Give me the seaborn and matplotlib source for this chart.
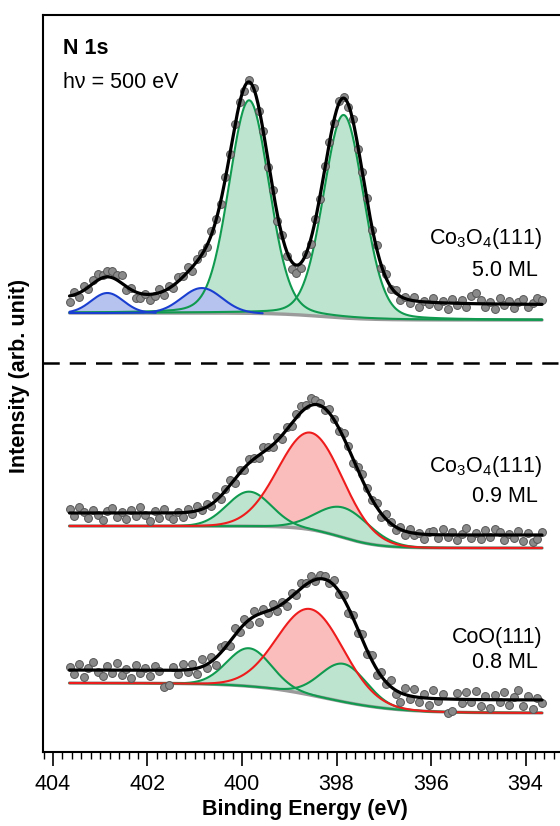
import numpy as np
import pandas as pd
import matplotlib
matplotlib.use("Agg")
import matplotlib.pyplot as plt
import seaborn as sns

# ---------------- data ----------------
energy_start = 403.65   # eV, first data channel
energy_step = 0.1       # eV
binding_energy = np.round(energy_start - energy_step * np.arange(101), 2)

counts_5ML = [450, 460, 455, 466, 463, 472, 478, 477, 481, 481, 477, 477, 462, 464, 454, 454, 458, 452, 456, 463,
              457, 466, 464, 475, 476, 485, 481, 493, 499, 505, 521, 533, 548, 575, 598, 628, 650, 661, 672, 664,
              641, 621, 585, 562, 531, 517, 496, 483, 479, 484, 498, 508, 533, 553, 586, 610, 629, 651, 655, 645,
              633, 603, 580, 554, 522, 507, 484, 478, 463, 462, 452, 455, 449, 455, 445, 451, 448, 454, 446, 451,
              443, 453, 447, 452, 445, 456, 459, 452, 445, 450, 443, 454, 447, 451, 444, 450, 453, 445, 449, 454, 452]
counts_09ML = [243, 236, 245, 240, 234, 242, 237, 232, 241, 244, 235, 240, 233, 242, 236, 245, 237, 231, 241, 234,
               243, 236, 233, 240, 235, 243, 238, 246, 242, 248, 246, 256, 253, 263, 272, 269, 282, 282, 293, 294,
               294, 305, 305, 305, 315, 313, 325, 326, 338, 346, 347, 354, 352, 349, 342, 343, 333, 321, 319, 306,
               289, 285, 278, 264, 252, 249, 235, 238, 230, 222, 225, 217, 223, 217, 219, 213, 220, 221, 214, 223,
               215, 220, 212, 218, 224, 214, 219, 213, 222, 215, 223, 220, 212, 218, 214, 221, 211, 219, 210, 213, 220]
counts_08ML = [85, 78, 88, 75, 84, 90, 80, 76, 86, 79, 89, 77, 83, 74, 87, 79, 84, 76, 86, 81,
               65, 67, 85, 78, 88, 80, 88, 78, 93, 84, 95, 87, 105, 107, 106, 124, 120, 133, 128, 141,
               130, 143, 139, 148, 141, 150, 146, 159, 157, 169, 169, 176, 171, 177, 176, 169, 172, 158, 157, 139,
               137, 119, 118, 98, 97, 77, 80, 68, 72, 58, 50, 64, 53, 63, 50, 58, 47, 62, 51, 58,
               39, 41, 59, 49, 60, 50, 61, 46, 56, 44, 57, 50, 60, 47, 55, 62, 46, 56, 43, 54, 49]

# fitted components: centre (eV), height, FWHM (eV), Lorentzian fraction, species
comp_5ML_centre = [402.85, 400.85, 399.85, 397.85]
comp_5ML_height = [20, 25, 213, 203]
comp_5ML_fwhm = [0.8, 1.0, 1.0, 1.0]
comp_5ML_eta = [0.0, 0.0, 0.15, 0.15]
comp_5ML_kind = ["blue", "blue", "green", "green"]

comp_09ML_centre = [399.85, 398.55, 397.85]
comp_09ML_height = [34.5, 97, 30]
comp_09ML_fwhm = [1.1, 1.6, 1.3]
comp_09ML_eta = [0.0, 0.0, 0.0]
comp_09ML_kind = ["green", "red", "green"]

comp_08ML_centre = [399.85, 398.55, 397.85]
comp_08ML_height = [38, 86, 38]
comp_08ML_fwhm = [1.1, 1.65, 1.15]
comp_08ML_eta = [0.0, 0.0, 0.0]
comp_08ML_kind = ["green", "red", "green"]

# background step: level at high BE, level at low BE, step centre, step width
bg_5ML = [439, 432, 398.3, 0.5]
bg_09ML = [226, 204, 397.9, 0.4]
bg_08ML = [69, 39, 398.25, 0.76]
# vertical shift of the data/envelope above the drawn components
fit_shift = [15, 13, 13]

sample_lines = [["Co$_3$O$_4$(111)", "5.0 ML"], ["Co$_3$O$_4$(111)", "0.9 ML"], ["CoO(111)", "0.8 ML"]]
x_ticks = [404, 402, 400, 398, 396, 394]
separator_level = 389

# ---------------- style ----------------
sns.set_style("ticks")
plt.rcParams["font.family"] = ["Liberation Sans", "DejaVu Sans"]
plt.rcParams["mathtext.default"] = "regular"
plt.rcParams["text.color"] = "black"
plt.rcParams["axes.labelcolor"] = "black"
plt.rcParams["xtick.color"] = "black"
plt.rcParams["xtick.labelcolor"] = "black"

line_col = {"green": "#0f9a4f", "red": "#ee1c1c", "blue": "#1a3fd0"}
fill_col = {"green": "#bde4cf", "red": "#fbbcbc", "blue": "#b6c3ee"}
fill_z = {"red": 1.0, "green": 1.1, "blue": 1.2}
line_z = {"green": 2.1, "red": 2.2, "blue": 2.3}
# minor (blue) components are only drawn where they are significant
draw_cut = {"green": 0.0, "red": 0.0, "blue": 0.01}


def pvoigt(e, c, a, w, eta):
    x = (e - c) / w
    g = np.exp(-4 * np.log(2) * x ** 2)
    l = 1.0 / (1.0 + 4 * x ** 2)
    return a * (eta * l + (1 - eta) * g)


def step_bg(e, hi, lo, c, s):
    return lo + (hi - lo) / (1.0 + np.exp(-(e - c) / s))


fig = plt.figure(figsize=(5.6, 8.26), dpi=100)
ax = fig.add_axes([43 / 560, 74 / 826, 523 / 560, 737 / 826])

e_fine = np.linspace(binding_energy[0], binding_energy[-1], 801)

spectra = [
    (counts_5ML, comp_5ML_centre, comp_5ML_height, comp_5ML_fwhm, comp_5ML_eta, comp_5ML_kind, bg_5ML),
    (counts_09ML, comp_09ML_centre, comp_09ML_height, comp_09ML_fwhm, comp_09ML_eta, comp_09ML_kind, bg_09ML),
    (counts_08ML, comp_08ML_centre, comp_08ML_height, comp_08ML_fwhm, comp_08ML_eta, comp_08ML_kind, bg_08ML),
]

for i, (counts, cen, hei, fw, eta, kind, bg) in enumerate(spectra):
    base = step_bg(e_fine, *bg)
    total = base.copy()
    for c, a, w, et, k in zip(cen, hei, fw, eta, kind):
        p = pvoigt(e_fine, c, a, w, et)
        total += p
        ax.fill_between(e_fine, base, base + p, color=fill_col[k], lw=0, zorder=fill_z[k])
        keep = (p >= draw_cut[k] * a) | (e_fine > c)
        sel = keep if k != "blue" else (p >= draw_cut[k] * a) | (e_fine > max(cen))
        sns.lineplot(x=e_fine[sel], y=(base + p)[sel], ax=ax, color=line_col[k], lw=1.5,
                     zorder=line_z[k], sort=False)
    sns.lineplot(x=e_fine, y=base, ax=ax, color="#9b9b9b", lw=2.4, zorder=2.0, sort=False)
    df = pd.DataFrame({"E": binding_energy, "I": counts})
    sns.scatterplot(data=df, x="E", y="I", ax=ax, color="#8a8a8a", edgecolor="#555555",
                    linewidth=0.7, s=32, zorder=3, legend=False)
    sns.lineplot(x=e_fine, y=total + fit_shift[i], ax=ax, color="black", lw=2.3, zorder=4, sort=False)

ax.axhline(separator_level, color="black", lw=1.8, ls=(0, (6.5, 4)), zorder=5)

ax.set_xlim(404.2116, 393.143)
ax.set_ylim(0, 737)
ax.set_yticks([])
ax.set_xticks(x_ticks)
ax.set_xticklabels([str(t) for t in x_ticks], fontsize=15.5)
ax.set_xticks(np.arange(393.2, 404.3, 0.2), minor=True)
ax.tick_params(axis="x", which="major", direction="out", length=10, width=1.2, pad=6, color="black")
ax.tick_params(axis="x", which="minor", direction="out", length=5, width=1.0, color="black")
for s in ["left", "top", "bottom", "right"]:
    ax.spines[s].set_linewidth(1.5)
    ax.spines[s].set_color("black")

ax.set_xlabel("Binding Energy (eV)", fontsize=15.5, fontweight="bold", labelpad=3)
ax.set_ylabel("Intensity (arb. unit)", fontsize=15.5, fontweight="bold")
ax.yaxis.set_label_coords(-0.025, 0.51)

ax.text(0.038, 0.955, "N 1s", transform=ax.transAxes, fontsize=15.5, fontweight="bold", va="center", ha="left")
ax.text(0.038, 0.908, "h\u03bd = 500 eV", transform=ax.transAxes, fontsize=15.5, va="center", ha="left")

label_y = [(0.697, 0.654), (0.387, 0.346), (0.155, 0.122)]
for (l1, l2), (y1, y2) in zip(sample_lines, label_y):
    ax.text(0.955, y1, l1, transform=ax.transAxes, fontsize=15.5, ha="right", va="center")
    ax.text(0.947, y2, l2, transform=ax.transAxes, fontsize=15.5, ha="right", va="center")

fig.savefig("out.png", dpi=100)
